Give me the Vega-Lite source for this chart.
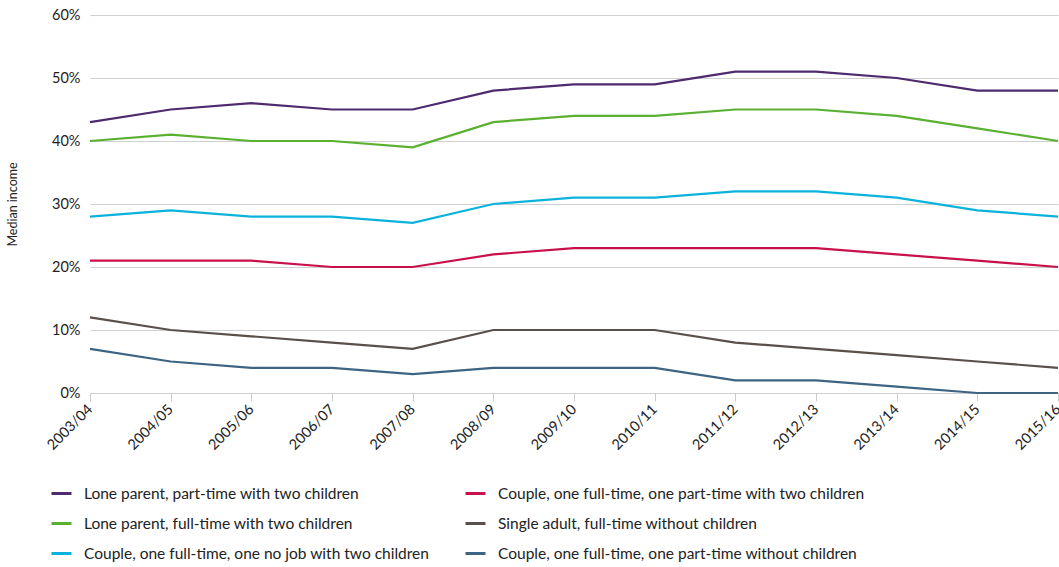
{
  "$schema": "https://vega.github.io/schema/vega-lite/v6.json",
  "width": 968,
  "height": 378,
  "autosize": {"type": "none"},
  "padding": {"left": 90, "top": 15, "right": 1, "bottom": 174},
  "background": "white",
  "config": {
    "view": {"stroke": null},
    "font": "Lato"
  },
  "datasets": {
    "d": [
      {"year": "2003/04", "s": "Lone parent, part-time with two children", "v": 43},
      {"year": "2004/05", "s": "Lone parent, part-time with two children", "v": 45},
      {"year": "2005/06", "s": "Lone parent, part-time with two children", "v": 46},
      {"year": "2006/07", "s": "Lone parent, part-time with two children", "v": 45},
      {"year": "2007/08", "s": "Lone parent, part-time with two children", "v": 45},
      {"year": "2008/09", "s": "Lone parent, part-time with two children", "v": 48},
      {"year": "2009/10", "s": "Lone parent, part-time with two children", "v": 49},
      {"year": "2010/11", "s": "Lone parent, part-time with two children", "v": 49},
      {"year": "2011/12", "s": "Lone parent, part-time with two children", "v": 51},
      {"year": "2012/13", "s": "Lone parent, part-time with two children", "v": 51},
      {"year": "2013/14", "s": "Lone parent, part-time with two children", "v": 50},
      {"year": "2014/15", "s": "Lone parent, part-time with two children", "v": 48},
      {"year": "2015/16", "s": "Lone parent, part-time with two children", "v": 48},
      {"year": "2003/04", "s": "Lone parent, full-time with two children", "v": 40},
      {"year": "2004/05", "s": "Lone parent, full-time with two children", "v": 41},
      {"year": "2005/06", "s": "Lone parent, full-time with two children", "v": 40},
      {"year": "2006/07", "s": "Lone parent, full-time with two children", "v": 40},
      {"year": "2007/08", "s": "Lone parent, full-time with two children", "v": 39},
      {"year": "2008/09", "s": "Lone parent, full-time with two children", "v": 43},
      {"year": "2009/10", "s": "Lone parent, full-time with two children", "v": 44},
      {"year": "2010/11", "s": "Lone parent, full-time with two children", "v": 44},
      {"year": "2011/12", "s": "Lone parent, full-time with two children", "v": 45},
      {"year": "2012/13", "s": "Lone parent, full-time with two children", "v": 45},
      {"year": "2013/14", "s": "Lone parent, full-time with two children", "v": 44},
      {"year": "2014/15", "s": "Lone parent, full-time with two children", "v": 42},
      {"year": "2015/16", "s": "Lone parent, full-time with two children", "v": 40},
      {"year": "2003/04", "s": "Couple, one full-time, one no job with two children", "v": 28},
      {"year": "2004/05", "s": "Couple, one full-time, one no job with two children", "v": 29},
      {"year": "2005/06", "s": "Couple, one full-time, one no job with two children", "v": 28},
      {"year": "2006/07", "s": "Couple, one full-time, one no job with two children", "v": 28},
      {"year": "2007/08", "s": "Couple, one full-time, one no job with two children", "v": 27},
      {"year": "2008/09", "s": "Couple, one full-time, one no job with two children", "v": 30},
      {"year": "2009/10", "s": "Couple, one full-time, one no job with two children", "v": 31},
      {"year": "2010/11", "s": "Couple, one full-time, one no job with two children", "v": 31},
      {"year": "2011/12", "s": "Couple, one full-time, one no job with two children", "v": 32},
      {"year": "2012/13", "s": "Couple, one full-time, one no job with two children", "v": 32},
      {"year": "2013/14", "s": "Couple, one full-time, one no job with two children", "v": 31},
      {"year": "2014/15", "s": "Couple, one full-time, one no job with two children", "v": 29},
      {"year": "2015/16", "s": "Couple, one full-time, one no job with two children", "v": 28},
      {"year": "2003/04", "s": "Couple, one full-time, one part-time with two children", "v": 21},
      {"year": "2004/05", "s": "Couple, one full-time, one part-time with two children", "v": 21},
      {"year": "2005/06", "s": "Couple, one full-time, one part-time with two children", "v": 21},
      {"year": "2006/07", "s": "Couple, one full-time, one part-time with two children", "v": 20},
      {"year": "2007/08", "s": "Couple, one full-time, one part-time with two children", "v": 20},
      {"year": "2008/09", "s": "Couple, one full-time, one part-time with two children", "v": 22},
      {"year": "2009/10", "s": "Couple, one full-time, one part-time with two children", "v": 23},
      {"year": "2010/11", "s": "Couple, one full-time, one part-time with two children", "v": 23},
      {"year": "2011/12", "s": "Couple, one full-time, one part-time with two children", "v": 23},
      {"year": "2012/13", "s": "Couple, one full-time, one part-time with two children", "v": 23},
      {"year": "2013/14", "s": "Couple, one full-time, one part-time with two children", "v": 22},
      {"year": "2014/15", "s": "Couple, one full-time, one part-time with two children", "v": 21},
      {"year": "2015/16", "s": "Couple, one full-time, one part-time with two children", "v": 20},
      {"year": "2003/04", "s": "Single adult, full-time without children", "v": 12},
      {"year": "2004/05", "s": "Single adult, full-time without children", "v": 10},
      {"year": "2005/06", "s": "Single adult, full-time without children", "v": 9},
      {"year": "2006/07", "s": "Single adult, full-time without children", "v": 8},
      {"year": "2007/08", "s": "Single adult, full-time without children", "v": 7},
      {"year": "2008/09", "s": "Single adult, full-time without children", "v": 10},
      {"year": "2009/10", "s": "Single adult, full-time without children", "v": 10},
      {"year": "2010/11", "s": "Single adult, full-time without children", "v": 10},
      {"year": "2011/12", "s": "Single adult, full-time without children", "v": 8},
      {"year": "2012/13", "s": "Single adult, full-time without children", "v": 7},
      {"year": "2013/14", "s": "Single adult, full-time without children", "v": 6},
      {"year": "2014/15", "s": "Single adult, full-time without children", "v": 5},
      {"year": "2015/16", "s": "Single adult, full-time without children", "v": 4},
      {"year": "2003/04", "s": "Couple, one full-time, one part-time without children", "v": 7},
      {"year": "2004/05", "s": "Couple, one full-time, one part-time without children", "v": 5},
      {"year": "2005/06", "s": "Couple, one full-time, one part-time without children", "v": 4},
      {"year": "2006/07", "s": "Couple, one full-time, one part-time without children", "v": 4},
      {"year": "2007/08", "s": "Couple, one full-time, one part-time without children", "v": 3},
      {"year": "2008/09", "s": "Couple, one full-time, one part-time without children", "v": 4},
      {"year": "2009/10", "s": "Couple, one full-time, one part-time without children", "v": 4},
      {"year": "2010/11", "s": "Couple, one full-time, one part-time without children", "v": 4},
      {"year": "2011/12", "s": "Couple, one full-time, one part-time without children", "v": 2},
      {"year": "2012/13", "s": "Couple, one full-time, one part-time without children", "v": 2},
      {"year": "2013/14", "s": "Couple, one full-time, one part-time without children", "v": 1},
      {"year": "2014/15", "s": "Couple, one full-time, one part-time without children", "v": 0},
      {"year": "2015/16", "s": "Couple, one full-time, one part-time without children", "v": 0}
    ]
  },
  "data": {"name": "d"},
  "mark": {"type": "line", "strokeWidth": 2.2},
  "encoding": {
    "x": {
      "field": "year",
      "type": "ordinal",
      "scale": {"type": "point", "padding": 0},
      "axis": {
        "title": null,
        "labelAngle": -45,
        "labelAlign": "right",
        "labelBaseline": "middle",
        "labelFontSize": 14.5,
        "labelColor": "#222222",
        "labelPadding": 6,
        "tickColor": "#cccccc",
        "tickSize": 8,
        "domain": false,
        "grid": false
      }
    },
    "y": {
      "field": "v",
      "type": "quantitative",
      "scale": {"domain": [0, 60]},
      "axis": {
        "title": "Median income",
        "titleFontSize": 12.5,
        "titleFontWeight": "normal",
        "titleColor": "#222222",
        "titlePadding": 32,
        "values": [0, 10, 20, 30, 40, 50, 60],
        "labelExpr": "datum.value + '%'",
        "labelFontSize": 14.5,
        "labelColor": "#222222",
        "labelPadding": 10,
        "ticks": false,
        "domain": false,
        "grid": true,
        "gridColor": "#d0d0d0",
        "gridWidth": 1.2
      }
    },
    "color": {
      "field": "s",
      "type": "nominal",
      "sort": null,
      "scale": {
        "domain": [
          "Lone parent, part-time with two children",
          "Lone parent, full-time with two children",
          "Couple, one full-time, one no job with two children",
          "Couple, one full-time, one part-time with two children",
          "Single adult, full-time without children",
          "Couple, one full-time, one part-time without children"
        ],
        "range": ["#4e2a6e", "#5ab031", "#0bb3dc", "#c8104a", "#5a504b", "#3d6482"]
      },
      "legend": {
        "title": null,
        "orient": "none",
        "legendX": -40,
        "legendY": 467,
        "columns": 2,
        "columnPadding": 29,
        "rowPadding": 10,
        "symbolType": "stroke",
        "symbolSize": 400,
        "symbolStrokeWidth": 3,
        "labelFontSize": 15.5,
        "labelColor": "#222222",
        "labelOffset": 11,
        "labelLimit": 500
      }
    }
  }
}
